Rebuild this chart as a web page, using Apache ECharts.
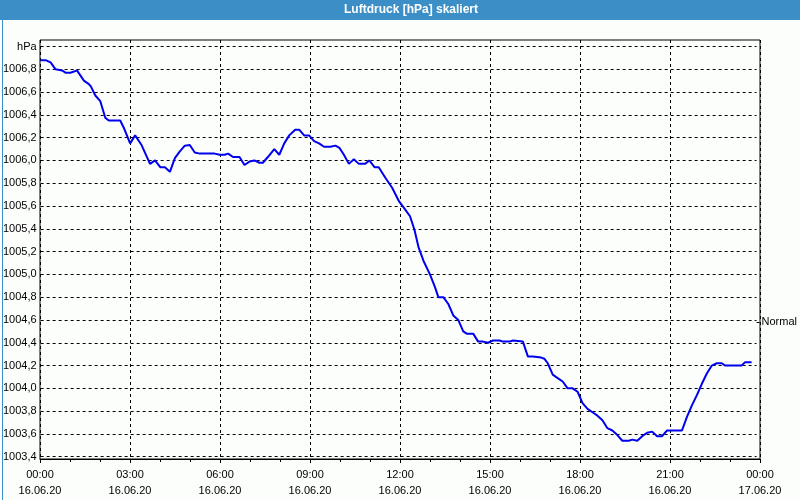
<!DOCTYPE html>
<html>
<head>
<meta charset="utf-8">
<script src="https://cdn.jsdelivr.net/npm/echarts@6/dist/echarts.min.js"></script>
<style>
html,body{margin:0;padding:0;background:#fcfefc;}
#c{width:800px;height:500px;}
</style>
</head>
<body>
<div id="c"></div>
<script>
// minutes since 16.06.20 00:00
var minutes = [0,10,20,30,43,50,60,67,73,77,87,97,101,110,120,130,137,160,168,180,190,203,220,230,241,250,260,270,280,290,300,310,320,350,360,370,377,387,400,410,420,430,440,447,457,470,480,490,500,512,520,530,540,550,560,570,583,593,601,610,620,630,640,653,661,672,680,693,707,721,733,743,752,760,770,783,793,800,810,820,830,840,850,857,870,880,890,900,910,923,930,943,950,970,980,990,1007,1013,1020,1030,1040,1050,1060,1070,1080,1090,1100,1110,1120,1130,1140,1150,1160,1170,1183,1190,1200,1210,1220,1230,1240,1250,1260,1290,1300,1310,1320,1330,1340,1350,1360,1370,1377,1410,1417,1430];
var pressure = [1006.88,1006.88,1006.86,1006.80,1006.79,1006.77,1006.77,1006.78,1006.79,1006.78,1006.70,1006.67,1006.65,1006.57,1006.52,1006.375,1006.35,1006.35,1006.28,1006.15,1006.22,1006.135,1005.97,1006.00,1005.94,1005.94,1005.90,1006.02,1006.08,1006.13,1006.135,1006.07,1006.06,1006.06,1006.05,1006.05,1006.06,1006.03,1006.03,1005.96,1005.99,1006.00,1005.98,1005.98,1006.03,1006.10,1006.05,1006.15,1006.22,1006.27,1006.27,1006.22,1006.22,1006.17,1006.15,1006.12,1006.12,1006.13,1006.11,1006.05,1005.97,1006.01,1005.97,1005.97,1006.00,1005.94,1005.94,1005.85,1005.76,1005.64,1005.57,1005.51,1005.39,1005.24,1005.12,1005.00,1004.89,1004.80,1004.80,1004.74,1004.64,1004.60,1004.50,1004.48,1004.48,1004.41,1004.41,1004.40,1004.42,1004.42,1004.41,1004.41,1004.42,1004.41,1004.28,1004.28,1004.27,1004.26,1004.22,1004.12,1004.09,1004.06,1004.00,1004.00,1003.97,1003.87,1003.82,1003.79,1003.76,1003.72,1003.65,1003.63,1003.59,1003.54,1003.54,1003.55,1003.54,1003.58,1003.61,1003.62,1003.58,1003.58,1003.63,1003.63,1003.75,1003.85,1003.94,1004.04,1004.13,1004.20,1004.22,1004.22,1004.20,1004.20,1004.23,1004.23];
var timeLabels = ['00:00','03:00','06:00','09:00','12:00','15:00','18:00','21:00','00:00'];
var dateLabels = ['16.06.20','16.06.20','16.06.20','16.06.20','16.06.20','16.06.20','16.06.20','16.06.20','17.06.20'];
var normalValue = 1004.58;
var titleText = 'Luftdruck [hPa] skaliert';
var unitLabel = 'hPa';

var points = minutes.map(function(m, i){ return [m, pressure[i]]; });
var FONT = '"Liberation Sans", Arial, sans-serif';

var chart = echarts.init(document.getElementById('c'), null, {renderer:'canvas'});
chart.setOption({
  animation: false,
  backgroundColor: '#fcfefc',
  textStyle: {fontFamily: FONT},
  graphic: [
    {type:'rect', left:0, top:0, shape:{width:800, height:20}, style:{fill:'#3c8fc6'}, z:10},
    {type:'rect', left:0, top:0, shape:{width:799, height:499}, style:{fill:'none', stroke:'#3c8fc6', lineWidth:1}, z:10},
    {type:'text', x:411, y:10, style:{text:titleText, fill:'#ffffff', font:'bold 12px ' + FONT, align:'center', verticalAlign:'middle'}, z:11}
  ],
  grid: [
    {left:40, right:40, top:40, bottom:41, show:true, borderColor:'#000', borderWidth:1, backgroundColor:'transparent'},
    {left:40, right:40, top:46.5, bottom:43.3, show:false}
  ],
  xAxis: [
    {gridIndex:0, type:'value', min:0, max:1440, interval:180,
     axisLine:{show:true, lineStyle:{color:'#000', width:1}},
     axisTick:{show:true, length:4, lineStyle:{color:'#000'}},
     minorTick:{show:true, splitNumber:3, length:3, lineStyle:{color:'#000'}},
     splitLine:{show:true, lineStyle:{color:'#000', type:[3,3], width:1}},
     axisLabel:{color:'#000', fontSize:11, fontFamily:FONT, margin:8, lineHeight:16,
       formatter:function(v){ var i = Math.round(v/180); return timeLabels[i] + '\n' + dateLabels[i]; }}
    },
    {gridIndex:1, type:'value', min:0, max:1440, show:false}
  ],
  yAxis: [
    {gridIndex:0, type:'value', min:0, max:1, show:false},
    {gridIndex:1, type:'value', min:1003.4, max:1007.0, interval:0.2,
     axisLine:{show:false}, axisTick:{show:false},
     splitLine:{show:true, lineStyle:{color:'#000', type:[3,3], width:1}},
     axisLabel:{color:'#000', fontSize:11, fontFamily:FONT, margin:4, showMaxLabel:true, showMinLabel:true,
       formatter:function(v){ if (Math.abs(v-1007.0) < 1e-6) return unitLabel; return v.toFixed(1).replace('.', ','); }}
    },
    {gridIndex:1, type:'value', position:'right', min:1003.4, max:1007.0,
     axisLine:{show:false}, splitLine:{show:false},
     axisTick:{show:true, length:3, customValues:[normalValue], lineStyle:{color:'#000'}},
     axisLabel:{color:'#000', fontSize:11, fontFamily:FONT, margin:5, customValues:[normalValue],
       formatter:function(){ return 'Normal'; }}
    }
  ],
  series: [{
    type:'line', xAxisIndex:1, yAxisIndex:1, data:points, showSymbol:false, symbol:'none',
    lineStyle:{color:'#0000ee', width:2}, z:5, clip:true
  }]
});
</script>
</body>
</html>
